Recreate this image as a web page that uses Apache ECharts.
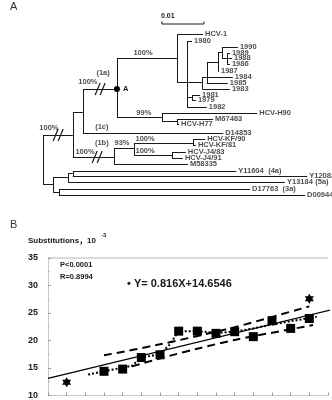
<!DOCTYPE html>
<html>
<head>
<meta charset="utf-8">
<script src="https://cdn.jsdelivr.net/npm/echarts@6/dist/echarts.min.js"></script>
<style>
html, body { margin: 0; padding: 0; background: #fff; }
#chart { width: 332px; height: 400px; }
</style>
</head>
<body>
<div id="chart"></div>
<script>
// ---- panel A: tree (distance in 0.001 subst./site, row = vertical slot) ----
const nodeNames = ['_root', '_g1', '_g1ac', '_A', '_g1a', 'HCV-1', '_n187', '1980', '_n202', '_n207',
  '_n218', '_n222', '1990', '_n227', '1989', '1988', '1986', '1987', '1984', '1985',
  '1983', '_n192', '1981', '1979', '1982', '_nH', 'HCV-H90', '_nH77', 'M67463', 'HCV-H77',
  'D14853', '_g1b', '_n134', '_nKF', 'HCV-KF/90', 'HCV-KF/81', '_nJ4', 'HCV-J4/83', 'HCV-J4/91', 'M58335',
  '_g345', '_g45', '_g4', 'Y11604', 'Y12083', 'Y13184', '_g3', 'D17763', 'D00944']
const nodeParent = [-1, 0, 1, 2, 3, 4, 4, 6, 6, 8,
  9, 10, 11, 11, 13, 13, 13, 10, 9, 9,
  8, 6, 21, 21, 6, 3, 25, 25, 27, 27,
  2, 1, 31, 32, 33, 33, 32, 36, 36, 31,
  0, 40, 41, 42, 42, 41, 40, 46, 46]
const nodeDist = [0, 7.1, 9.5, 17.6, 31.9, 38.1, 34.3, 35.5, 37.9, 39.0,
  41.7, 42.6, 46.4, 43.8, 44.5, 45.0, 44.5, 41.9, 45.2, 44.0,
  44.5, 35.5, 37.4, 36.4, 39.0, 28.3, 51.0, 31.9, 40.5, 32.4,
  42.9, 16.9, 21.7, 35.7, 38.6, 36.4, 30.7, 34.0, 33.3, 34.5,
  2.4, 6.0, 7.1, 46.0, 62.9, 57.6, 3.8, 49.3, 62.4]
const nodeRow = [160, 135, 112, 89, 58, 34, 82, 41, 82, 77,
  62, 52, 47, 58, 53, 58, 64, 71, 77, 83,
  89, 97, 95, 100, 107, 117, 113, 121, 119, 124,
  133, 157, 148, 143, 139, 145, 155, 152, 158, 164,
  184, 177, 173.5, 171, 176, 182, 192, 189, 195]

// bootstrap values and clade tags
const noteText = ['100%', '(1a)', '100%', '99%', '100%', '(1c)', '(1b)', '100%', '93%', '100%', '100%', '(4a)', '(5a)', '(3a)']
const noteDist = [23.8, 14.3, 10.7, 24.0, 1.4, 14.0, 14.0, 10.0, 18.8, 24.3, 24.3, 55.2, 66.4, 58.6]
const noteRow = [53, 73, 82, 113, 128, 127, 143, 152, 143, 139, 151, 171, 182, 189]

// branch breaks (//)
const breakDist = [13.6, 3.6, 12.9]
const breakRow = [89, 135, 157]

const scaleBar = [28.3, 38.3]   // 0.01
const scaleRow = 24

// ---- panel B: substitutions vs sampling ----
const squareX = [3, 4, 5, 6, 7, 8, 9, 10, 11, 12, 13, 14]
const squareY = [14.4, 14.8, 16.9, 17.4, 21.7, 21.7, 21.3, 21.6, 20.7, 23.6, 22.2, 24.0]
const starX = [1, 14]
const starY = [12.4, 27.6]
const regLine = [[0, 13.1], [15.2, 25.6]]
const upperBand = [[3, 17.3], [6, 19.3], [9, 21.6], [10, 22.4], [14, 26.2]]
const lowerBand = [[4.5, 15.3], [6.5, 17.2], [8, 18.5], [10, 20.1], [14.2, 22.8]]
const trendLine = [[2.15, 13.8], [3, 14.4], [4.5, 15.4], [5, 16.9], [6, 17.5], [6.5, 19.2], [7, 21.7],
  [8, 21.7], [9, 21.4], [10, 21.6], [11, 22.2], [12, 22.9], [13, 23.5], [14.4, 24.3]]

const FONT = 'Liberation Sans, Arial, "Noto Sans CJK SC", sans-serif'
const INK = '#1a1a1a'
// six-pointed star, one outline so it fills solid
const STAR = 'path://M0,-10L2.89,-5L8.66,-5L5.77,0L8.66,5L2.89,5L0,10L-2.89,5L-8.66,5L-5.77,0L-8.66,-5L-2.89,-5Z'

// build tree segments
const treeSegs = []
const tipData = []
nodeNames.forEach((name, i) => {
  const p = nodeParent[i]
  if (p >= 0) treeSegs.push({ coords: [[nodeDist[p], nodeRow[i]], [nodeDist[i], nodeRow[i]]] })
  const kids = []
  nodeParent.forEach((q, j) => { if (q === i) kids.push(j) })
  if (kids.length) {
    const rows = kids.map(j => nodeRow[j])
    treeSegs.push({ coords: [[nodeDist[i], Math.min(...rows)], [nodeDist[i], Math.max(...rows)]] })
  } else {
    tipData.push({ value: [nodeDist[i], nodeRow[i]], name: name })
  }
})
const nodeA = nodeNames.indexOf('_A')

const chart = echarts.init(document.getElementById('chart'))
const option = {
  animation: false,
  textStyle: { fontFamily: FONT },
  grid: [
    { left: 43, top: 0, width: 289, height: 200 },
    { left: 48, top: 258, width: 280, height: 138 }
  ],
  xAxis: [
    { gridIndex: 0, type: 'value', min: 0, max: 68.8, show: false },
    {
      gridIndex: 1, type: 'value', min: 0, max: 15, interval: 1,
      axisLine: { lineStyle: { color: '#c8c8c8', width: 1 } },
      axisTick: { inside: true, length: 3, lineStyle: { color: '#999' } },
      axisLabel: { show: false }, splitLine: { show: false }
    },
    {
      gridIndex: 1, type: 'value', min: 0, max: 15, position: 'top',
      axisLine: { show: true, lineStyle: { color: '#d0d0d0', width: 1.5 } },
      axisTick: { show: false }, axisLabel: { show: false }, splitLine: { show: false }
    }
  ],
  yAxis: [
    { gridIndex: 0, type: 'value', min: 0, max: 200, inverse: true, show: false },
    {
      gridIndex: 1, type: 'value', min: 10, max: 35, interval: 5,
      axisLine: { show: true, lineStyle: { color: '#c8c8c8' } },
      axisTick: { show: true, inside: true, length: 3, lineStyle: { color: '#999' } },
      minorTick: { show: true, splitNumber: 2, length: 2, lineStyle: { color: '#bbb' } },
      axisLabel: { color: INK, fontWeight: 'bold', fontSize: 9, margin: 10, fontFamily: FONT },
      splitLine: { show: false }
    }
  ],
  graphic: [
    { type: 'text', left: 10, top: 1, style: { text: 'A', fontSize: 11, fill: '#333', fontFamily: FONT } },
    { type: 'text', left: 161, top: 13, style: { text: '0.01', fontSize: 7, fontWeight: 'bold', fill: INK, fontFamily: FONT } },
    { type: 'text', left: 10, top: 219, style: { text: 'B', fontSize: 11, fill: '#333', fontFamily: FONT } },
    { type: 'text', left: 28, top: 237, style: { text: 'Substitutions，10', fontSize: 8, fontWeight: 'bold', fill: INK, fontFamily: FONT } },
    { type: 'text', left: 101, top: 232, style: { text: '-3', fontSize: 6, fontWeight: 'bold', fill: INK, fontFamily: FONT } },
    { type: 'text', left: 60, top: 261, style: { text: 'P<0.0001', fontSize: 7.5, fontWeight: 'bold', fill: INK, fontFamily: FONT } },
    { type: 'text', left: 60, top: 273, style: { text: 'R=0.8994', fontSize: 7.5, fontWeight: 'bold', fill: INK, fontFamily: FONT } },
    { type: 'text', left: 127, top: 278, style: { text: '• Y= 0.816X+14.6546', fontSize: 11, fontWeight: 'bold', fill: INK, fontFamily: FONT } }
  ],
  series: [
    {
      type: 'lines', coordinateSystem: 'cartesian2d', xAxisIndex: 0, yAxisIndex: 0,
      silent: true, data: treeSegs,
      lineStyle: { color: INK, width: 1, opacity: 1 }
    },
    {
      type: 'lines', coordinateSystem: 'cartesian2d', xAxisIndex: 0, yAxisIndex: 0,
      silent: true, polyline: true,
      data: [{ coords: [[scaleBar[0], scaleRow - 2.5], [scaleBar[0], scaleRow], [scaleBar[1], scaleRow], [scaleBar[1], scaleRow - 2.5]] }],
      lineStyle: { color: INK, width: 1, opacity: 1 }
    },
    {
      type: 'scatter', xAxisIndex: 0, yAxisIndex: 0, silent: true,
      symbolSize: 0, data: tipData,
      label: {
        show: true, position: 'right', distance: 2, formatter: p => p.name,
        fontSize: 7.5, fontWeight: 'bold', color: INK, fontFamily: FONT
      }
    },
    {
      type: 'scatter', xAxisIndex: 0, yAxisIndex: 0, silent: true,
      symbolSize: 0,
      data: noteText.map((t, i) => ({ value: [noteDist[i], noteRow[i]], name: t })),
      label: {
        show: true, position: 'inside', formatter: p => p.name,
        fontSize: 7.5, fontWeight: 'bold', color: INK, fontFamily: FONT
      }
    },
    {
      type: 'scatter', xAxisIndex: 0, yAxisIndex: 0, silent: true,
      symbol: 'circle', symbolSize: 6, itemStyle: { color: '#000', opacity: 1 },
      data: [{ value: [nodeDist[nodeA], nodeRow[nodeA]], name: 'A' }],
      label: {
        show: true, position: 'right', distance: 3, formatter: 'A',
        fontSize: 7.5, fontWeight: 'bold', color: INK, fontFamily: FONT
      }
    },
    {
      type: 'custom', xAxisIndex: 0, yAxisIndex: 0, silent: true,
      data: breakDist.map((d, i) => [d, breakRow[i]]),
      renderItem: (params, api) => {
        const c = api.coord([api.value(0), api.value(1)])
        return {
          type: 'group',
          children: [-2.5, 2.5].map(dx => ({
            type: 'line',
            shape: { x1: c[0] + dx - 2.5, y1: c[1] + 6, x2: c[0] + dx + 2.5, y2: c[1] - 6 },
            style: { stroke: INK, lineWidth: 1.2 }
          }))
        }
      }
    },
    // panel B
    {
      type: 'line', xAxisIndex: 1, yAxisIndex: 1, data: regLine, showSymbol: false,
      clip: false, silent: true, lineStyle: { color: '#000', width: 1.2 }
    },
    {
      type: 'line', xAxisIndex: 1, yAxisIndex: 1, data: upperBand, showSymbol: false,
      smooth: 0.3, silent: true, lineStyle: { color: '#000', width: 2, type: [8, 5] }
    },
    {
      type: 'line', xAxisIndex: 1, yAxisIndex: 1, data: lowerBand, showSymbol: false,
      smooth: 0.3, silent: true, lineStyle: { color: '#000', width: 2, type: [8, 5] }
    },
    {
      type: 'line', xAxisIndex: 1, yAxisIndex: 1, data: trendLine, showSymbol: false,
      silent: true, lineStyle: { color: '#000', width: 2, type: [2, 2] }
    },
    {
      type: 'scatter', xAxisIndex: 1, yAxisIndex: 1, silent: true,
      symbol: 'rect', symbolSize: 9, itemStyle: { color: '#000', opacity: 1 },
      data: squareX.map((x, i) => [x, squareY[i]])
    },
    {
      type: 'scatter', xAxisIndex: 1, yAxisIndex: 1, silent: true,
      symbol: STAR, symbolSize: [9, 10],
      itemStyle: { color: '#000', opacity: 1 },
      data: starX.map((x, i) => [x, starY[i]])
    }
  ]
}
chart.setOption(option)
window.onresize = () => { chart.resize() }
</script>
</body>
</html>
